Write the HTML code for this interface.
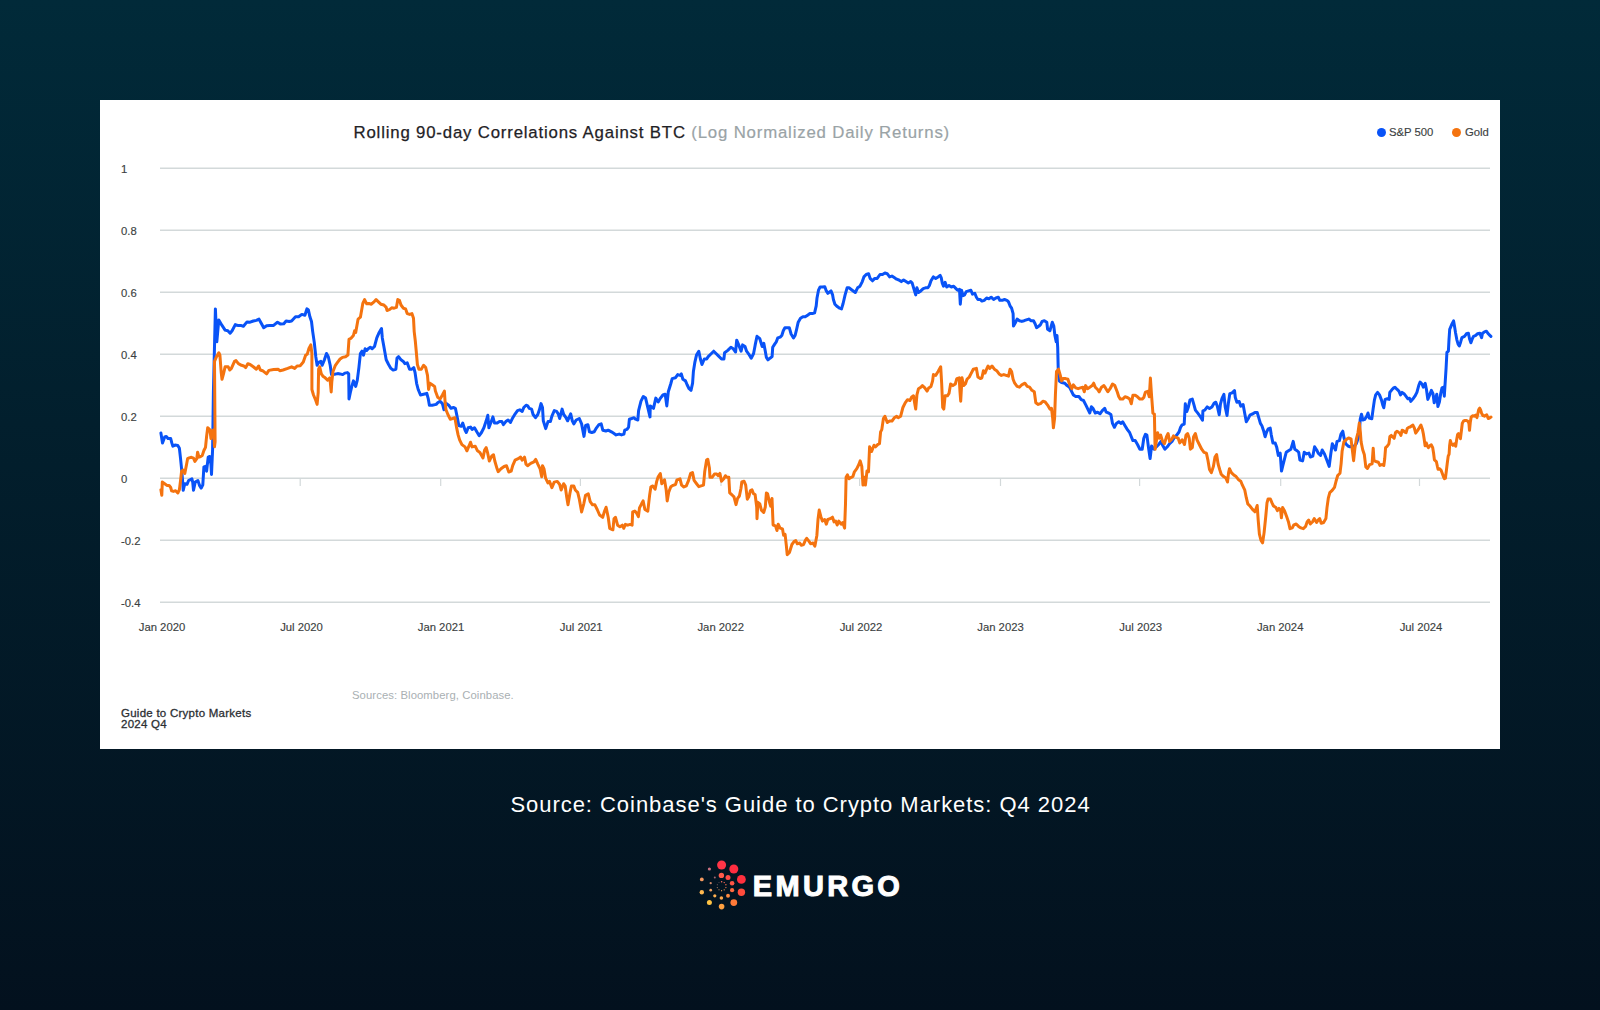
<!DOCTYPE html>
<html><head><meta charset="utf-8">
<style>
html,body{margin:0;padding:0;}
body{width:1600px;height:1010px;overflow:hidden;position:relative;font-family:"Liberation Sans",sans-serif;
background:linear-gradient(180deg,#012a39 0%,#021f2d 42%,#03111e 100%);}
#card{position:absolute;left:100px;top:100px;width:1400px;height:649px;background:#fff;}
.t{position:absolute;white-space:nowrap;line-height:1;}
#title{left:353.5px;top:124.5px;font-size:16.8px;color:#1f2226;letter-spacing:0.82px;-webkit-text-stroke:0.25px #1f2226;}
#title span{color:#9aa3a6;-webkit-text-stroke:0.2px #9aa3a6;}
.yl{font-size:11.3px;color:#3c3f42;left:121px;margin-top:0.5px;-webkit-text-stroke:0.15px #3c3f42;}
.xl{font-size:11.3px;color:#3c3f42;top:622px;-webkit-text-stroke:0.15px #3c3f42;transform:translateX(-50%);}
.lg{font-size:11.3px;color:#3c3f42;top:127.2px;-webkit-text-stroke:0.15px #3c3f42;}
.dot{position:absolute;width:9px;height:9px;border-radius:50%;top:127.5px;}
#src{left:352px;top:689.5px;font-size:11.3px;letter-spacing:0.08px;color:#a9b0b3;}
#guide{left:121px;top:708px;-webkit-text-stroke:0.3px #2c2f33;font-size:11.5px;letter-spacing:0.25px;color:#2c2f33;line-height:11.3px;white-space:pre;}
#cap{left:0.5px;width:1600px;text-align:center;top:794.1px;font-size:22px;letter-spacing:0.96px;color:#fff;}
#emu{left:752.8px;top:872.2px;font-size:29px;font-weight:bold;color:#fff;letter-spacing:3.3px;-webkit-text-stroke:1px #fff;}
svg{position:absolute;left:0;top:0;}
</style></head><body>
<div id="card"></div>
<svg id="chart" width="1600" height="1010" viewBox="0 0 1600 1010">
<g stroke="#d3d9da" stroke-width="1.5" fill="none">
<path d="M160 168.35H1490M160 230.35H1490M160 292.35H1490M160 354.35H1490M160 416.35H1490M160 478.35H1490M160 540.35H1490M160 602.35H1490"/>
<path d="M300.2 478v8M440.7 478v8M580.4 478v8M721 478v8M859.6 478v8M1000.5 478v8M1139.6 478v8M1280.7 478v8M1419.5 478v8" stroke-width="1.2"/>
</g>
<path id="spx" fill="none" stroke="#0953f7" stroke-width="3" stroke-linejoin="round" stroke-linecap="round" d="M160.9,433.1L162.5,442.9L164.7,436.9L166.3,436.4L168.0,438.5L170.7,438.5L171.8,442.9L172.9,446.2L175.0,445.1L177.8,445.6L179.4,448.3L180.5,458.1L181.8,471.2L182.7,482.1L183.2,490.3L184.8,483.7L187.0,484.3L188.6,480.5L191.9,478.8L192.7,482.1L193.5,490.3L195.2,482.1L197.9,480.5L199.5,485.4L201.2,488.1L202.8,484.8L203.9,466.9L206.1,466.3L206.6,471.2L208.2,457.1L209.7,456.5L211.0,464.7L211.5,474.5L212.6,449.4L212.9,427.7L213.4,391.9L215.4,308.9L216.8,341.8L218.8,319.9L222.0,325.4L225.1,330.1L227.8,330.8L230.1,333.2L232.1,330.8L235.3,324.6L237.6,325.4L240.7,325.4L243.4,326.2L247.0,321.9L250.1,322.2L253.3,321.0L256.4,320.4L259.0,319.1L261.1,323.0L263.7,327.7L266.6,325.7L269.7,325.4L273.6,325.4L277.5,322.2L280.6,324.1L283.8,323.8L286.1,321.0L289.2,321.5L291.6,321.0L295.5,316.8L298.6,316.8L301.8,314.4L304.9,315.2L306.9,308.9L308.3,309.7L309.9,316.8L311.5,321.5L312.7,331.6L314.3,342.6L315.8,356.7L317.1,365.3L319.0,362.1L320.8,361.4L322.1,365.3L324.4,359.8L326.5,353.5L328.3,356.7L330.2,365.3L331.5,374.6L334.6,374.2L337.7,373.6L340.1,373.9L342.7,374.6L344.8,373.1L347.4,372.6L348.7,373.9L349.0,398.9L350.3,392.6L351.8,386.4L353.4,380.9L355.7,386.4L357.3,380.1L358.9,367.6L360.4,353.5L362.0,351.2L363.5,355.1L365.1,348.8L366.7,350.4L368.2,348.8L370.3,347.3L372.2,348.8L374.5,346.5L376.8,337.9L379.2,332.4L381.5,328.5L382.3,337.9L383.4,344.1L384.7,351.2L386.2,359.8L388.6,364.5L390.9,368.4L393.1,370.0L395.9,369.2L397.0,358.2L398.6,356.7L401.0,359.8L403.3,361.4L404.9,363.7L407.2,362.9L409.6,369.2L411.9,369.2L413.8,367.6L415.0,372.3L416.6,383.3L418.2,389.5L420.5,395.0L423.6,394.2L426.8,393.4L428.3,398.9L429.4,405.2L432.2,405.2L436.2,404.4L437.7,402.8L440.1,401.2L442.4,403.6L444.0,409.8L446.3,403.6L448.7,405.2L451.0,408.3L453.4,407.5L455.4,408.3L457.0,416.1L458.8,425.5L461.2,426.3L462.7,423.1L465.1,430.2L466.3,432.5L468.2,427.8L470.6,427.1L472.1,429.4L474.5,427.8L476.8,431.8L479.2,435.7L481.5,432.5L483.9,427.8L486.2,420.8L487.8,415.3L488.9,427.8L490.9,422.4L492.9,416.9L494.5,423.1L497.2,423.1L499.5,421.6L501.9,421.6L503.4,424.7L505.8,421.6L508.1,420.0L510.5,422.4L512.8,417.7L515.2,413.8L517.5,410.6L519.8,409.8L522.2,411.4L523.8,407.5L526.1,405.2L527.7,405.9L529.2,408.3L531.6,409.1L533.1,414.5L535.5,417.7L537.8,414.5L539.4,409.8L541.0,403.6L542.5,407.5L543.3,420.8L545.7,428.6L548.0,421.6L550.4,421.6L551.9,416.1L554.3,410.6L556.6,411.4L558.2,413.8L559.7,418.5L562.1,409.1L563.7,414.5L566.0,417.7L567.6,420.8L570.7,413.8L572.3,420.8L573.8,423.9L576.2,420.0L579.3,418.5L581.6,423.9L584.0,436.4L585.6,425.5L587.9,424.7L589.5,431.8L591.8,432.5L594.2,431.8L596.5,427.8L598.9,424.7L601.2,423.9L602.8,430.2L605.9,431.0L608.2,430.2L611.4,431.8L613.7,433.3L616.1,434.9L619.2,434.1L621.5,434.9L623.9,434.1L624.7,430.2L627.0,429.4L628.6,427.1L629.4,419.2L631.7,418.5L634.1,417.7L635.5,419.2L637.8,420.0L638.6,410.6L641.0,401.2L643.3,396.5L645.6,398.1L648.0,408.3L650.0,416.9L650.3,405.9L653.5,408.3L655.8,398.1L658.2,402.0L660.5,398.1L662.9,395.0L665.2,394.2L666.8,405.9L668.3,391.8L670.7,384.0L672.2,378.6L675.4,377.8L677.7,374.6L680.1,375.4L681.3,373.9L682.9,379.3L685.5,380.9L687.1,384.8L689.1,388.7L691.0,390.3L692.6,383.2L693.4,371.5L694.9,362.1L696.5,355.1L698.8,351.2L700.4,359.0L702.0,364.5L704.3,359.0L706.7,359.0L708.2,356.6L711.4,353.5L713.7,351.2L716.0,353.5L718.4,355.9L721.5,359.0L723.9,359.0L724.6,352.7L727.8,350.4L730.9,347.3L733.3,348.8L735.6,352.0L736.7,340.2L738.7,344.9L741.1,351.2L742.6,344.9L745.0,346.5L746.6,351.2L748.9,354.3L751.2,358.2L753.6,353.5L755.2,344.9L757.0,336.3L759.8,338.7L762.2,346.5L763.8,343.4L765.3,351.2L766.4,357.4L768.0,359.8L770.0,358.2L772.1,356.6L772.7,347.3L774.7,344.1L776.3,341.8L777.8,337.9L780.2,337.1L781.8,335.5L783.3,330.8L784.9,327.7L787.2,327.7L789.3,327.7L791.1,334.0L793.5,337.9L795.1,335.5L796.6,329.3L798.2,322.2L800.5,318.3L802.9,316.8L805.2,316.8L807.6,315.2L809.9,313.6L812.3,313.6L814.6,312.8L816.2,305.8L817.0,298.0L818.5,290.2L820.1,287.0L822.4,287.0L824.8,286.7L826.3,290.9L827.9,293.3L831.0,290.9L832.6,294.9L833.4,299.5L834.9,304.2L837.3,306.6L839.6,308.2L841.5,308.9L843.1,303.5L845.1,294.9L847.1,287.8L849.0,287.8L852.2,290.2L855.3,292.5L857.6,287.8L860.0,286.2L862.3,281.6L863.9,276.9L866.2,274.5L868.6,273.7L870.1,278.4L872.5,280.8L874.8,278.4L877.2,278.4L880.0,274.5L882.5,274.5L884.9,273.0L887.2,273.7L889.6,276.9L891.9,276.1L894.2,277.6L896.6,279.2L898.9,280.0L901.3,281.6L903.6,280.0L906.0,281.6L908.3,283.1L910.7,281.6L912.2,283.1L913.8,288.6L915.7,294.9L916.9,287.8L918.5,292.5L920.8,290.9L923.2,288.6L925.5,287.8L927.9,287.8L929.4,285.5L931.0,280.8L933.4,276.9L935.7,278.4L938.1,276.9L940.1,275.3L941.2,277.6L942.3,283.1L943.5,286.2L945.1,282.3L946.7,287.0L949.0,285.5L951.4,287.0L953.7,286.2L956.0,288.6L957.6,290.2L959.5,289.4L960.3,304.2L961.5,290.2L963.1,295.6L964.6,294.9L966.2,291.7L968.6,290.9L970.9,290.2L972.5,294.1L974.8,293.3L976.4,297.2L977.9,299.5L980.3,299.5L981.9,301.1L984.2,300.3L986.6,298.0L988.9,298.8L991.2,297.2L993.6,299.5L995.9,298.0L998.3,297.2L999.8,300.3L1002.2,300.3L1004.5,299.5L1006.9,300.3L1008.5,301.9L1010.0,305.8L1011.6,308.2L1013.1,313.6L1013.5,326.1L1015.2,323.0L1017.1,319.1L1019.4,320.7L1021.8,321.4L1024.1,320.7L1026.4,319.9L1028.8,319.1L1031.1,320.7L1033.5,320.7L1035.1,323.8L1036.6,327.7L1039.0,326.1L1040.5,324.6L1042.1,321.4L1044.4,320.7L1046.8,322.2L1047.6,329.3L1049.9,330.8L1051.2,326.1L1052.3,322.2L1053.8,326.1L1054.9,335.5L1056.2,341.8L1057.0,335.5L1057.7,347.3L1058.2,368.4L1059.3,380.9L1061.6,382.5L1064.8,383.2L1067.1,385.6L1069.5,387.2L1071.8,391.8L1073.4,395.0L1075.7,396.5L1078.9,396.5L1081.2,399.7L1083.5,400.5L1085.9,405.1L1088.2,409.8L1089.8,413.0L1091.4,406.7L1092.9,408.3L1095.3,413.0L1097.6,412.2L1100.0,413.8L1102.3,410.6L1104.7,408.3L1106.2,412.2L1108.6,413.0L1110.9,414.5L1112.5,423.4L1114.4,427.3L1116.4,423.4L1118.8,421.8L1121.1,423.4L1122.7,421.8L1125.0,425.7L1127.4,429.6L1129.7,432.7L1131.3,436.7L1132.9,440.6L1135.2,440.6L1137.5,444.5L1139.9,449.2L1142.2,449.2L1143.8,438.2L1145.4,434.3L1146.9,435.1L1148.5,447.6L1150.1,458.6L1151.6,446.0L1154.0,449.2L1156.3,446.8L1158.7,444.5L1161.0,441.4L1162.6,445.3L1164.9,449.2L1167.3,446.8L1169.6,443.7L1172.0,441.4L1174.3,437.4L1176.7,435.1L1179.0,432.0L1180.6,427.3L1182.1,424.9L1184.2,424.1L1185.3,403.8L1186.8,411.6L1188.4,406.9L1190.0,399.9L1192.3,399.1L1193.9,404.6L1195.4,410.1L1197.8,413.2L1200.1,416.3L1202.5,420.2L1202.9,410.8L1204.8,410.1L1207.2,406.9L1209.5,408.5L1211.9,406.9L1214.2,403.0L1215.8,402.2L1217.3,406.2L1219.2,414.8L1220.5,403.8L1222.0,398.3L1223.9,394.4L1225.2,406.9L1227.0,415.5L1228.3,403.8L1229.8,393.6L1232.2,392.9L1234.5,390.5L1235.3,397.5L1236.9,402.2L1239.2,401.5L1240.8,406.2L1243.1,404.6L1244.7,413.2L1246.3,421.8L1248.6,417.9L1250.2,414.8L1252.5,414.0L1254.9,412.4L1257.2,412.4L1258.8,417.9L1260.4,423.4L1261.9,425.7L1263.5,430.4L1265.1,436.7L1266.6,432.0L1268.2,428.8L1270.2,428.1L1271.3,435.1L1272.9,442.9L1275.2,442.9L1276.8,447.6L1278.3,455.4L1280.2,453.1L1281.5,471.1L1283.0,464.8L1284.6,458.6L1286.2,452.3L1288.5,450.7L1290.9,449.2L1293.2,441.4L1294.8,449.2L1297.1,450.7L1298.7,452.3L1299.9,460.1L1302.6,460.9L1304.2,452.3L1306.5,453.9L1308.9,453.1L1310.4,457.0L1312.8,456.2L1314.6,446.8L1316.7,450.0L1318.2,453.1L1320.6,455.4L1322.2,450.0L1324.5,453.9L1326.8,460.1L1329.2,466.4L1330.8,453.9L1332.3,443.7L1333.9,446.8L1335.5,450.0L1337.0,441.4L1339.4,440.6L1340.9,434.3L1342.8,431.2L1344.1,438.2L1345.6,443.7L1348.0,446.0L1350.0,446.8L1354.1,446.3L1356.4,443.5L1358.0,438.8L1359.6,429.4L1360.2,419.4L1361.5,414.2L1362.8,420.0L1364.7,419.4L1366.7,416.2L1368.0,413.0L1369.3,418.1L1371.8,418.8L1373.1,409.1L1374.4,400.1L1375.7,394.9L1377.6,392.4L1379.5,394.9L1381.5,400.1L1382.8,405.2L1383.8,407.8L1385.1,399.4L1387.3,398.8L1389.2,399.4L1389.8,392.4L1391.8,389.8L1393.7,387.9L1395.0,387.2L1396.9,389.2L1398.9,391.1L1400.5,394.9L1402.1,392.4L1404.0,393.7L1405.9,396.2L1407.9,398.8L1409.5,398.2L1410.8,401.4L1413.0,398.8L1414.9,396.2L1416.9,392.4L1418.8,385.3L1420.1,382.1L1422.0,384.0L1423.3,387.2L1425.2,383.4L1426.5,389.8L1427.8,399.4L1429.7,394.9L1431.4,390.4L1433.0,393.7L1434.2,402.7L1435.8,397.5L1436.8,394.3L1437.9,406.5L1439.4,402.0L1440.7,393.7L1442.0,387.9L1443.3,387.2L1444.3,396.2L1445.2,382.1L1446.1,367.9L1446.9,352.5L1448.4,351.2L1449.0,339.6L1449.7,329.3L1451.6,324.8L1453.6,320.9L1454.6,326.7L1455.5,332.5L1456.8,339.6L1458.1,344.1L1459.3,346.0L1460.6,342.2L1461.9,337.7L1464.5,336.4L1466.4,333.8L1468.4,333.2L1469.6,339.0L1470.9,342.8L1472.2,339.0L1473.5,336.4L1475.4,335.7L1477.4,333.8L1479.9,333.2L1481.6,337.7L1482.5,333.2L1484.4,331.9L1486.4,331.2L1488.3,333.8L1489.6,335.1L1490.9,336.4"/>
<path id="gold" fill="none" stroke="#f4730f" stroke-width="3" stroke-linejoin="round" stroke-linecap="round" d="M160.9,489.7L161.8,495.2L162.3,482.1L164.7,483.7L166.9,485.4L169.1,485.4L170.7,487.5L171.6,490.8L173.4,491.4L175.6,490.8L177.8,493.0L179.4,489.7L180.5,481.0L181.6,471.2L183.2,470.1L184.8,473.4L186.5,464.7L187.6,458.7L189.2,457.9L191.4,457.3L193.5,458.1L194.9,461.4L196.8,458.7L197.6,452.2L199.0,457.1L200.6,456.5L202.3,455.4L203.9,450.5L205.5,447.3L206.6,436.4L207.7,427.7L209.9,429.8L211.0,438.5L212.1,430.9L213.7,429.8L214.5,446.7L215.1,441.8L214.5,361.4L216.5,356.7L218.8,352.7L219.9,355.1L221.2,372.3L222.0,379.3L223.5,373.9L225.1,366.8L228.2,366.8L229.8,370.0L231.4,368.4L234.5,361.4L236.0,360.6L238.4,363.7L241.5,365.3L243.9,366.0L245.7,367.6L247.8,363.7L250.1,364.5L253.3,366.8L256.4,369.2L258.7,366.0L260.3,370.0L262.6,370.7L266.6,373.9L268.9,370.4L273.6,369.5L278.3,369.2L279.8,370.7L283.0,370.0L287.7,368.4L291.6,366.8L294.7,368.4L297.1,366.0L300.2,365.7L303.3,362.1L305.7,355.1L307.2,354.3L308.8,348.8L310.8,344.9L311.9,353.5L311.9,389.5L313.5,395.0L315.8,400.5L317.1,404.4L318.2,392.6L318.6,369.2L319.7,366.8L321.3,373.9L322.9,376.2L325.2,377.8L327.6,380.1L329.9,377.8L331.2,391.9L331.8,381.7L333.0,371.5L335.4,365.3L337.7,362.1L340.1,359.0L342.4,357.4L345.6,356.7L347.9,355.1L349.0,339.4L351.0,338.2L353.4,335.5L354.6,330.8L355.7,332.4L358.1,319.1L360.4,317.2L362.8,303.5L364.6,299.6L366.7,303.8L369.0,303.5L371.4,304.2L373.7,302.2L376.1,299.6L378.4,301.9L380.8,304.2L383.9,305.0L386.2,307.4L387.0,310.5L389.4,309.7L391.7,307.8L394.1,308.2L396.4,307.4L397.8,299.6L399.4,300.3L401.0,305.0L403.3,308.2L405.6,308.9L407.2,313.6L409.6,314.4L411.9,313.6L413.5,318.3L414.2,331.6L415.3,341.0L416.3,352.0L417.4,364.5L418.9,369.2L421.3,369.2L423.6,365.3L425.7,367.6L427.5,375.4L428.6,389.5L429.9,383.3L432.2,384.8L434.6,386.4L435.4,391.1L437.7,397.3L440.1,398.9L442.4,395.0L444.4,391.1L445.1,402.0L446.0,409.8L447.9,414.5L450.2,419.2L452.6,418.5L454.9,417.7L456.5,427.1L458.1,434.9L459.6,439.9L461.9,444.6L465.0,446.9L466.9,450.8L468.9,446.2L470.5,442.2L472.1,446.9L475.2,446.2L477.5,450.8L479.9,452.4L483.0,457.9L484.6,450.1L486.2,447.7L487.7,453.2L489.3,461.0L491.6,456.3L493.5,454.8L494.8,461.0L497.1,468.8L498.2,471.7L501.0,468.8L504.1,466.5L506.5,465.7L508.8,472.0L511.2,471.2L512.7,465.7L515.1,460.2L518.2,458.7L520.6,457.1L522.1,460.2L524.5,457.1L526.0,464.1L527.6,465.7L530.7,463.4L533.9,461.8L535.7,459.4L537.8,464.1L540.1,468.8L541.7,476.7L542.5,465.7L544.0,468.8L545.6,478.2L547.9,482.9L549.5,481.4L551.9,487.6L554.2,482.1L557.3,481.4L559.7,484.5L561.2,490.0L563.6,483.7L565.2,486.0L566.7,497.0L568.0,504.8L569.8,493.9L571.4,486.0L573.8,486.0L575.3,490.0L577.7,492.3L579.2,498.6L581.6,511.9L583.9,503.3L585.5,495.4L588.3,493.9L590.2,501.7L592.5,504.8L594.9,504.8L597.2,509.5L599.6,515.0L602.7,517.3L604.3,511.9L606.1,507.2L608.2,517.3L609.7,528.3L612.9,529.8L614.0,518.9L615.5,517.3L617.6,525.2L619.9,526.7L622.3,525.2L623.8,528.3L625.4,524.4L627.7,525.2L630.1,524.4L632.1,525.2L632.7,511.9L634.8,511.1L636.3,512.6L638.4,516.6L639.5,507.9L641.8,503.3L643.1,500.9L644.9,509.5L647.8,511.1L649.6,495.4L650.9,486.8L652.8,486.0L655.1,489.2L656.7,481.4L658.2,476.7L660.3,473.5L661.8,483.7L664.5,479.8L666.1,489.2L667.2,500.9L668.7,492.3L670.8,486.8L673.1,485.3L675.5,484.5L677.0,479.8L680.0,478.8L681.6,485.1L683.9,487.0L686.3,485.9L688.6,480.4L690.6,473.4L692.5,472.6L694.1,480.4L696.4,483.5L698.8,486.7L701.1,485.9L703.5,485.1L704.7,471.8L706.6,460.1L707.8,459.3L709.4,467.9L710.0,477.3L712.1,477.3L714.4,474.1L716.8,474.1L718.3,475.7L719.9,473.4L721.5,481.2L723.8,478.8L725.4,475.7L726.9,477.3L728.8,477.3L729.7,492.9L731.6,494.5L734.0,496.8L736.0,504.6L737.6,498.4L739.4,496.0L741.0,488.2L741.8,482.0L744.1,481.2L745.7,485.1L747.3,499.2L748.8,496.8L750.4,490.6L752.0,489.8L753.5,493.7L755.1,494.5L756.7,507.0L757.0,518.7L757.9,502.3L759.8,503.9L761.4,510.1L763.7,512.5L765.3,507.0L766.4,492.9L767.6,493.7L769.5,502.3L770.7,506.2L772.0,498.4L773.1,525.0L775.4,525.8L777.0,530.5L778.2,524.2L780.1,528.1L782.5,528.9L783.6,535.2L785.1,534.4L786.4,546.1L787.2,554.7L789.5,552.4L791.9,544.5L794.2,541.4L795.8,540.6L797.3,543.8L799.7,543.0L801.2,545.3L803.6,544.5L805.2,540.6L806.7,538.3L809.1,541.4L810.6,543.8L813.0,543.0L814.9,546.1L816.9,535.2L818.0,519.5L819.2,510.1L820.8,516.4L822.4,521.1L824.7,519.5L826.3,524.2L827.8,519.5L830.2,518.7L832.5,517.2L834.1,521.9L835.7,521.1L837.2,525.0L838.8,521.1L841.1,524.2L842.7,522.6L844.6,528.1L845.5,503.9L846.1,477.3L847.4,474.9L849.0,478.8L851.3,477.3L852.9,476.5L854.4,471.8L856.8,468.7L859.1,464.0L860.2,460.8L861.8,466.3L863.0,485.1L864.6,477.3L865.4,485.1L867.0,471.0L868.5,471.8L869.6,446.8L871.6,451.5L874.0,445.2L875.6,446.8L877.9,444.4L879.5,443.6L880.6,431.9L881.8,429.6L883.4,418.6L884.9,416.3L887.3,422.5L889.6,421.0L892.0,421.0L894.3,417.8L896.7,416.3L898.2,417.8L900.6,416.3L902.9,407.5L905.2,402.8L907.5,399.7L909.9,400.5L911.5,397.3L913.5,395.8L914.6,402.8L915.7,409.1L916.9,395.0L918.5,388.7L920.8,387.2L922.4,385.6L924.8,387.9L927.1,391.1L928.7,387.9L931.0,386.4L932.6,380.9L933.4,374.6L935.7,375.4L938.1,371.5L940.7,366.8L941.7,384.0L942.7,407.5L943.8,409.1L945.1,395.8L947.4,395.8L949.0,393.4L950.6,384.0L952.9,385.6L955.3,384.0L956.8,378.6L959.2,377.8L960.0,391.8L960.7,401.2L962.0,377.8L963.6,385.6L965.4,384.0L967.0,379.3L969.3,377.0L970.9,373.9L973.3,369.2L976.4,368.4L977.9,377.0L980.3,378.6L981.9,377.8L983.4,370.7L985.0,373.1L986.6,369.2L988.1,366.0L989.7,368.4L992.0,366.0L994.4,369.2L996.7,370.7L999.1,373.9L1001.4,375.4L1003.8,374.6L1006.1,375.4L1008.5,376.2L1010.0,369.2L1011.6,371.5L1013.1,379.3L1014.7,383.2L1017.1,386.4L1019.4,387.2L1021.8,384.8L1024.9,383.2L1027.2,386.4L1029.6,387.2L1031.9,390.3L1034.3,391.8L1035.8,402.8L1038.2,404.4L1040.5,403.6L1042.9,401.2L1045.2,402.0L1047.6,405.1L1049.9,409.1L1051.5,408.3L1052.7,418.4L1053.4,427.8L1054.6,418.4L1055.4,395.0L1056.5,371.5L1058.5,369.2L1060.1,374.6L1061.6,380.9L1063.2,378.6L1065.6,378.6L1067.9,379.3L1069.5,384.0L1071.8,388.7L1073.4,384.8L1075.7,387.9L1078.1,388.7L1080.4,387.9L1082.8,387.2L1084.3,391.8L1085.6,385.6L1087.5,388.7L1089.8,387.2L1092.2,385.6L1093.7,383.2L1095.3,387.2L1097.6,389.5L1099.2,391.8L1101.5,387.2L1103.9,385.6L1105.5,387.9L1107.8,391.8L1110.1,388.7L1112.5,384.0L1114.8,385.6L1117.2,391.8L1118.7,396.5L1120.3,399.1L1122.7,399.1L1125.0,396.8L1127.4,397.5L1129.7,399.1L1131.3,403.8L1132.9,395.2L1135.2,395.2L1137.5,396.8L1139.9,399.1L1142.2,399.1L1143.8,397.5L1145.4,392.1L1147.7,391.3L1149.3,396.8L1150.4,378.0L1151.6,396.0L1152.9,413.2L1154.4,414.0L1155.1,449.2L1156.3,441.4L1157.6,432.7L1159.1,438.2L1160.7,435.1L1162.6,441.4L1164.5,443.7L1166.5,436.7L1168.1,433.5L1169.6,441.4L1172.0,439.0L1173.5,435.9L1175.9,437.4L1178.2,438.2L1179.8,442.9L1182.1,439.8L1184.5,444.5L1186.0,435.1L1187.6,433.5L1189.2,438.2L1190.4,449.2L1192.3,447.6L1193.6,436.7L1195.4,433.5L1197.0,439.8L1199.3,444.5L1201.7,449.2L1204.0,452.3L1206.4,453.1L1207.9,460.1L1209.5,469.5L1211.4,472.6L1213.4,466.4L1215.0,457.0L1216.6,454.6L1218.1,464.0L1219.7,469.5L1221.2,474.2L1223.6,476.6L1225.9,478.1L1227.5,482.0L1228.6,472.6L1229.5,468.7L1231.4,472.6L1233.8,475.0L1236.1,476.6L1238.5,479.7L1240.8,481.2L1242.4,485.2L1244.7,489.8L1246.3,497.7L1247.8,503.9L1250.2,506.3L1252.5,509.4L1254.9,511.8L1257.2,505.5L1258.2,520.1L1259.4,534.2L1261.0,540.5L1262.6,542.8L1264.1,532.6L1265.7,517.0L1267.0,502.9L1268.1,499.0L1270.4,499.0L1272.0,502.9L1273.5,506.0L1275.9,507.6L1277.4,510.7L1279.0,508.4L1280.6,510.0L1281.4,517.8L1282.6,507.6L1284.5,510.7L1286.8,517.0L1288.4,521.7L1290.0,528.7L1292.3,527.9L1293.9,524.8L1296.2,524.0L1298.6,526.4L1300.9,527.9L1303.3,528.7L1305.6,526.4L1307.2,521.7L1308.7,520.1L1310.3,524.0L1312.6,521.7L1314.2,518.6L1316.6,522.5L1318.1,520.1L1319.7,518.6L1321.2,523.3L1323.6,522.5L1325.9,518.6L1327.0,507.6L1328.3,498.2L1329.8,492.7L1332.2,490.4L1334.5,487.3L1336.1,481.0L1337.7,475.5L1340.0,473.2L1341.1,463.8L1342.1,451.3L1343.9,441.9L1346.3,439.6L1348.6,438.0L1351.0,438.8L1352.5,451.3L1353.6,460.7L1354.9,448.2L1356.4,438.8L1358.0,432.5L1359.3,423.1L1360.4,432.5L1361.1,441.9L1362.7,449.7L1364.3,454.4L1365.8,466.9L1367.4,468.5L1369.7,464.6L1372.1,463.8L1373.2,448.2L1374.0,460.7L1376.0,461.5L1378.3,462.2L1379.9,465.4L1381.9,464.6L1383.8,465.5L1384.7,459.0L1385.6,447.7L1387.1,446.3L1388.9,443.9L1389.9,436.4L1391.3,435.4L1392.7,436.9L1394.1,438.3L1395.5,432.6L1396.9,431.2L1398.3,432.1L1399.7,433.1L1400.9,435.4L1402.1,430.3L1403.5,430.7L1404.9,432.1L1406.1,432.6L1407.3,428.4L1408.7,427.4L1410.1,427.0L1411.5,426.0L1412.9,425.1L1414.3,427.9L1415.7,433.1L1417.1,431.2L1418.6,428.9L1420.0,426.5L1420.9,425.1L1422.3,428.9L1423.3,433.6L1424.2,439.2L1425.1,445.8L1426.3,443.0L1427.5,446.3L1428.4,447.7L1429.8,445.8L1431.3,444.8L1432.7,447.7L1433.6,453.3L1434.4,459.9L1435.5,460.8L1436.4,461.8L1437.4,466.5L1438.1,469.3L1439.7,468.8L1441.1,470.2L1442.5,474.0L1443.5,476.8L1444.4,478.7L1445.4,478.2L1446.3,471.2L1447.2,463.7L1448.2,456.1L1449.1,454.2L1449.6,445.8L1450.3,440.6L1451.5,443.9L1452.9,445.3L1454.3,443.9L1455.7,446.3L1456.6,440.1L1457.6,434.5L1458.5,433.6L1459.5,435.4L1460.4,438.7L1461.4,430.7L1462.3,423.2L1463.7,420.9L1465.1,420.4L1466.5,420.4L1467.9,421.3L1468.9,423.2L1469.5,430.3L1470.3,422.3L1471.2,417.1L1472.6,415.7L1474.0,416.2L1475.5,415.2L1476.9,417.6L1477.8,413.8L1478.7,409.6L1479.7,408.2L1480.6,410.0L1481.6,413.3L1483.0,415.7L1484.4,416.2L1485.8,415.2L1486.7,414.7L1488.2,418.5L1489.6,418.0L1491.0,417.1"/>
</svg>
<div class="t" id="title">Rolling 90-day Correlations Against BTC <span>(Log Normalized Daily Returns)</span></div>
<div class="dot" style="left:1376.5px;background:#0953f7"></div><div class="t lg" style="left:1389px">S&amp;P 500</div>
<div class="dot" style="left:1452px;background:#f4730f"></div><div class="t lg" style="left:1465px">Gold</div>
<div class="t yl" style="top:163px">1</div>
<div class="t yl" style="top:225px">0.8</div>
<div class="t yl" style="top:287px">0.6</div>
<div class="t yl" style="top:349px">0.4</div>
<div class="t yl" style="top:411px">0.2</div>
<div class="t yl" style="top:473px">0</div>
<div class="t yl" style="top:535px">-0.2</div>
<div class="t yl" style="top:597px">-0.4</div>
<div class="t xl" style="left:162px">Jan 2020</div>
<div class="t xl" style="left:301.5px">Jul 2020</div>
<div class="t xl" style="left:441px">Jan 2021</div>
<div class="t xl" style="left:581.2px">Jul 2021</div>
<div class="t xl" style="left:720.7px">Jan 2022</div>
<div class="t xl" style="left:861px">Jul 2022</div>
<div class="t xl" style="left:1000.5px">Jan 2023</div>
<div class="t xl" style="left:1140.7px">Jul 2023</div>
<div class="t xl" style="left:1280.2px">Jan 2024</div>
<div class="t xl" style="left:1421px">Jul 2024</div>
<div class="t" id="src">Sources: Bloomberg, Coinbase.</div>
<div class="t" id="guide">Guide to Crypto Markets
2024 Q4</div>
<div class="t" id="cap">Source: Coinbase's Guide to Crypto Markets: Q4 2024</div>
<svg id="logo" width="1600" height="1010" viewBox="0 0 1600 1010"><circle cx="721.6" cy="865.0" r="4.50" fill="#ff3547"/><circle cx="733.8" cy="869.0" r="4.50" fill="#ff2d40"/><circle cx="741.4" cy="879.4" r="4.40" fill="#ff303e"/><circle cx="741.4" cy="892.2" r="3.70" fill="#ff4c3c"/><circle cx="733.8" cy="902.6" r="3.40" fill="#ff7a38"/><circle cx="721.6" cy="906.6" r="2.80" fill="#ffa040"/><circle cx="709.4" cy="902.6" r="2.50" fill="#ffc444"/><circle cx="701.8" cy="892.2" r="2.20" fill="#ffb850"/><circle cx="701.8" cy="879.4" r="1.90" fill="#f59a60"/><circle cx="709.4" cy="869.0" r="1.60" fill="#c87080"/><circle cx="721.4" cy="875.4" r="2.70" fill="#ff5a4a"/><circle cx="728.0" cy="877.6" r="2.50" fill="#ff4a45"/><circle cx="732.1" cy="883.2" r="2.30" fill="#ff5545"/><circle cx="732.1" cy="890.2" r="2.10" fill="#ff6a40"/><circle cx="728.0" cy="895.8" r="1.95" fill="#ff8a40"/><circle cx="721.4" cy="898.0" r="1.80" fill="#ffa84a"/><circle cx="714.8" cy="895.8" r="1.60" fill="#ffb050"/><circle cx="710.7" cy="890.2" r="1.35" fill="#f0a060"/><circle cx="710.7" cy="883.2" r="1.15" fill="#d08868"/><circle cx="714.8" cy="877.6" r="1.00" fill="#a06870"/><circle cx="721.6" cy="881.7" r="0.75" fill="#ff7060"/><circle cx="724.2" cy="882.6" r="0.72" fill="#ff6858"/><circle cx="725.9" cy="884.8" r="0.69" fill="#ff7050"/><circle cx="725.9" cy="887.6" r="0.66" fill="#ff8850"/><circle cx="724.2" cy="889.8" r="0.63" fill="#ffa050"/><circle cx="721.6" cy="890.7" r="0.60" fill="#ffb060"/><circle cx="719.0" cy="889.8" r="0.57" fill="#e8a060"/><circle cx="717.3" cy="887.6" r="0.54" fill="#c08868"/><circle cx="717.3" cy="884.8" r="0.51" fill="#a07870"/><circle cx="719.0" cy="882.6" r="0.48" fill="#806870"/></svg>
<div class="t" id="emu">EMURGO</div>
</body></html>
